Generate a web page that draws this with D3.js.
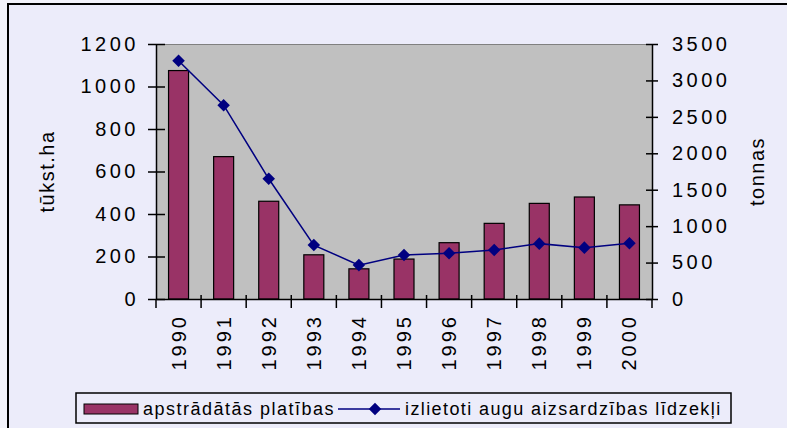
<!DOCTYPE html>
<html><head><meta charset="utf-8">
<script src="https://cdn.jsdelivr.net/npm/d3@7"></script>
<style>body{margin:0;background:#f3f3fb;} svg{display:block;}</style>
</head><body>
<svg id="c" width="787" height="428"></svg>
<script>
const years = ["1990","1991","1992","1993","1994","1995","1996","1997","1998","1999","2000"];
const areaValues = [1075, 670, 460, 208, 142, 188, 265, 356, 450, 480, 443];
const pesticideValues = [3270, 2660, 1650, 740, 465, 605, 628, 673, 760, 705, 765];
const leftTicks = [0, 200, 400, 600, 800, 1000, 1200];
const rightTicks = [0, 500, 1000, 1500, 2000, 2500, 3000, 3500];
const leftTitle = "tūkst.ha";
const rightTitle = "tonnas";
const seriesNames = ["apstrādātās platības", "izlietoti augu aizsardzības līdzekļi"];

const svg = d3.select("#c");
const font = "Liberation Sans, Arial, sans-serif";
svg.append("rect").attr("x", 8).attr("y", 4).attr("width", 800).attr("height", 440)
  .attr("fill", "#ececfa").attr("stroke", "#000").attr("stroke-width", 2);

const L = 156, R = 652, T = 44, B = 299;
const xb = d3.scaleBand().domain(years).range([L, R]);
const yL = d3.scaleLinear().domain([0, 1200]).range([B, T]);
const yR = d3.scaleLinear().domain([0, 3500]).range([B, T]);

svg.append("rect").attr("x", L).attr("y", T).attr("width", R - L).attr("height", B - T)
  .attr("fill", "#c0c0c0");
svg.append("line").attr("x1", L).attr("x2", R).attr("y1", T + 0.5).attr("y2", T + 0.5)
  .attr("stroke", "#808080").attr("stroke-width", 1);

// bars
svg.append("g").selectAll("rect").data(years).join("rect")
  .attr("x", d => xb(d) + xb.bandwidth() / 2 - 10)
  .attr("width", 20)
  .attr("y", (d, i) => yL(areaValues[i]))
  .attr("height", (d, i) => B - yL(areaValues[i]))
  .attr("fill", "#993366").attr("stroke", "#000").attr("stroke-width", 1.2);

// line
const cx = d => xb(d) + xb.bandwidth() / 2;
const line = d3.line().x(d => cx(d.y)).y(d => yR(d.v));
const pts = years.map((y, i) => ({ y, v: pesticideValues[i] }));
svg.append("path").datum(pts).attr("d", line).attr("fill", "none")
  .attr("stroke", "#000080").attr("stroke-width", 1.5);
svg.append("g").selectAll("path").data(pts).join("path")
  .attr("d", d3.symbol(d3.symbolDiamond2, 100))
  .attr("transform", d => `translate(${cx(d.y)},${yR(d.v)})`)
  .attr("fill", "#000080");

// axes
const tickStyle = g => {
  g.select(".domain").attr("stroke", "#000").attr("stroke-width", 1.5);
  g.selectAll(".tick line").attr("stroke", "#000").attr("stroke-width", 1.5);
  g.selectAll("text").attr("font-family", font).attr("font-size", 20)
    .attr("fill", "#000").style("letter-spacing", "3.5px");
};
const fmt = d3.format("d");
const axL = svg.append("g").attr("transform", `translate(${L},0)`)
  .call(d3.axisLeft(yL).tickValues(leftTicks).tickFormat(fmt).tickSize(9).tickSizeOuter(0).tickPadding(8));
axL.call(tickStyle);
axL.selectAll(".tick line").attr("x2", -8).attr("x1", 9);
const axR = svg.append("g").attr("transform", `translate(${R},0)`)
  .call(d3.axisRight(yR).tickValues(rightTicks).tickFormat(fmt).tickSize(6).tickSizeOuter(0).tickPadding(14));
axR.call(tickStyle);
axR.selectAll(".tick line").attr("x1", -6).attr("x2", 6);

const axB = svg.append("g").attr("transform", `translate(0,${B})`)
  .call(d3.axisBottom(xb).tickSize(0).tickSizeOuter(0));
axB.call(tickStyle);
axB.selectAll(".tick text").attr("transform", "rotate(-90)").attr("text-anchor", "end")
  .attr("x", -15).attr("y", 0).attr("dy", "0.35em").style("letter-spacing", "3px");
// band boundary ticks
svg.append("g").selectAll("line").data(years.slice(1)).join("line")
  .attr("x1", d => xb(d)).attr("x2", d => xb(d)).attr("y1", B - 4).attr("y2", B + 9)
  .attr("stroke", "#000").attr("stroke-width", 1.5);
svg.append("line").attr("x1", L).attr("x2", L).attr("y1", B).attr("y2", B + 9)
  .attr("stroke", "#000").attr("stroke-width", 1.5);
svg.append("line").attr("x1", R).attr("x2", R).attr("y1", B).attr("y2", B + 9)
  .attr("stroke", "#000").attr("stroke-width", 1.5);

// titles
svg.append("text").attr("transform", `translate(47,${(T + B) / 2}) rotate(-90)`)
  .attr("text-anchor", "middle").attr("dy", "0.35em").attr("font-family", font)
  .attr("font-size", 20).style("letter-spacing", "1.5px").text(leftTitle);
svg.append("text").attr("transform", `translate(757,${(T + B) / 2}) rotate(-90)`)
  .attr("text-anchor", "middle").attr("dy", "0.35em").attr("font-family", font)
  .attr("font-size", 20).style("letter-spacing", "1.5px").text(rightTitle);

// legend
const lg = svg.append("g");
lg.append("rect").attr("x", 76).attr("y", 393).attr("width", 655).attr("height", 30)
  .attr("fill", "#ececfa").attr("stroke", "#000").attr("stroke-width", 1.5);
lg.append("rect").attr("x", 84).attr("y", 404).attr("width", 54).attr("height", 10)
  .attr("fill", "#993366").attr("stroke", "#000").attr("stroke-width", 1);
lg.append("text").attr("x", 143).attr("y", 415).attr("font-family", font).attr("font-size", 18)
  .style("letter-spacing", "1.5px").text(seriesNames[0]);
lg.append("line").attr("x1", 338).attr("x2", 400).attr("y1", 409).attr("y2", 409)
  .attr("stroke", "#000080").attr("stroke-width", 1.5);
lg.append("path").attr("d", d3.symbol(d3.symbolDiamond2, 100))
  .attr("transform", "translate(375,409)").attr("fill", "#000080");
lg.append("text").attr("x", 405).attr("y", 415).attr("font-family", font).attr("font-size", 18)
  .style("letter-spacing", "1.4px").text(seriesNames[1]);
</script>
</body></html>
